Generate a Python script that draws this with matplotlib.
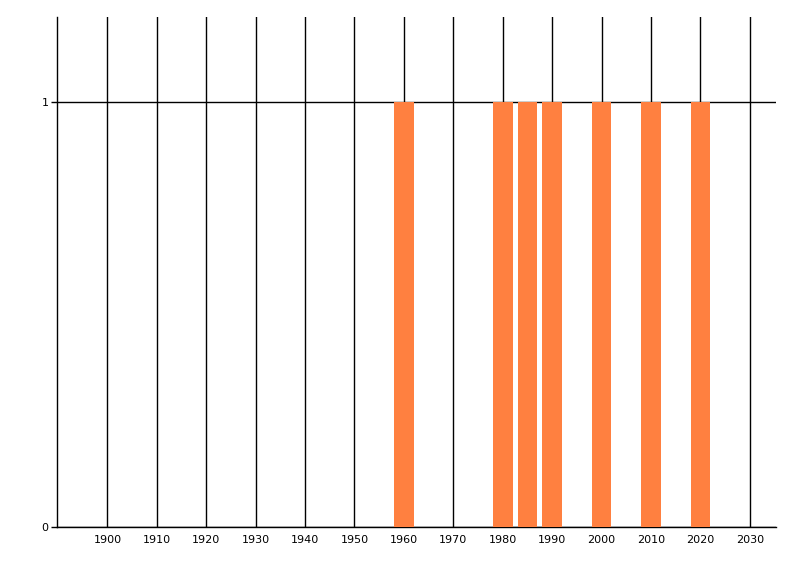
import matplotlib.pyplot as plt

years = [1960, 1980, 1985, 1990, 2000, 2010, 2020]
counts = [1, 1, 1, 1, 1, 1, 1]
xticks = list(range(1900, 2031, 10))

fig = plt.figure(figsize=(8.0, 5.76), dpi=100)
ax = fig.add_axes([57 / 800, 1 - 527 / 576, (776 - 57) / 800, (527 - 17) / 576])

ax.bar(years, counts, width=4, color="#ff8040", zorder=3)

ax.set_xlim(1889.8, 2035.3)
ax.set_ylim(0, 1.2)
ax.set_xticks(xticks)
ax.set_yticks([0, 1])
ax.grid(True, color="black", lw=1, zorder=1)
for s in ["top", "right"]:
    ax.spines[s].set_visible(False)
ax.spines["left"].set_linewidth(1)
ax.spines["bottom"].set_linewidth(1)
ax.tick_params(axis="x", length=0, pad=6, labelsize=8)
ax.tick_params(axis="y", length=4, width=1, pad=2, labelsize=8)

fig.savefig("out.png", dpi=100)
